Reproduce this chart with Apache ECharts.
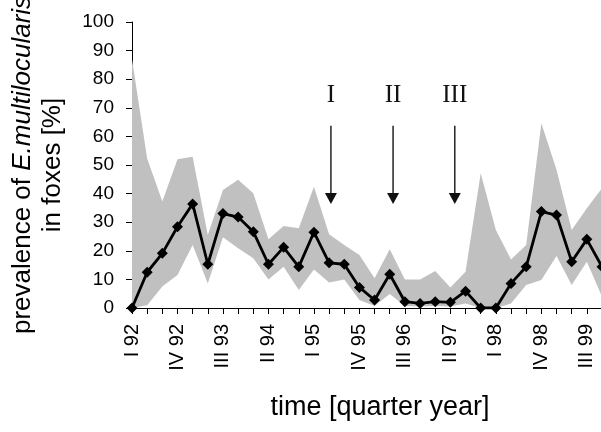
<!DOCTYPE html>
<html>
<head>
<meta charset="utf-8">
<script src="https://cdn.jsdelivr.net/npm/echarts@6/dist/echarts.min.js"></script>
<style>
html,body{margin:0;padding:0;background:#fff;}
#chart{width:601px;height:432px;}
</style>
</head>
<body>
<div id="chart"></div>
<script>
// ---- data ----
const quarterLabels = [
  'I 92','II 92','III 92','IV 92',
  'I 93','II 93','III 93','IV 93',
  'I 94','II 94','III 94','IV 94',
  'I 95','II 95','III 95','IV 95',
  'I 96','II 96','III 96','IV 96',
  'I 97','II 97','III 97','IV 97',
  'I 98','II 98','III 98','IV 98',
  'I 99','II 99','III 99','IV 99'
];
const prevalence = [0,12.5,19.1,28.4,36.4,15.3,33,31.8,26.7,15.3,21.2,14.4,26.5,15.8,15.3,7.2,2.8,11.8,2.2,1.6,2.2,2,5.9,0,0,8.6,14.4,33.7,32.5,16.2,24,14.4];
const upperCI = [87,52.3,37.2,52,52.9,25.5,41.3,44.8,40.1,24,28.7,27.9,42.4,25.8,22,18.5,10.4,20.5,10,10,12.9,7.2,12.7,47.1,27.3,17,22,64.6,48.3,27.3,34.9,41.9];
const lowerCI = [0,1,7.5,11.5,22,8.6,24.7,20.9,17.4,10,14.4,6.3,13.5,8.9,10,2.8,0.7,4.9,0.7,0.5,0.7,0.5,1.6,0,0,1.6,8,9.8,18.2,8,16.2,4];
const yTicks = [0,10,20,30,40,50,60,70,80,90,100];
// control measures (arrows): position in quarter index, label
const arrowLabels = ['I','II','III'];
const arrowPositions = [13.12, 17.22, 21.29];
const arrowTopValue = 63.7;
const arrowTipValue = 36.4;

const bandWidth = upperCI.map((u, i) => +(u - lowerCI[i]).toFixed(2));

const FONT = 'Liberation Sans, Arial, sans-serif';
const chart = echarts.init(document.getElementById('chart'), null, {renderer: 'canvas'});

const option = {
  animation: false,
  backgroundColor: '#ffffff',
  grid: {left: 132, top: 22, width: 470, height: 286, outerBoundsMode: 'none', containLabel: false},
  xAxis: [{
    type: 'category',
    data: quarterLabels,
    boundaryGap: false,
    name: 'time [quarter year]',
    nameLocation: 'middle',
    nameGap: 86,
    nameMoveOverlap: false,
    nameTextStyle: {fontFamily: FONT, fontSize: 27, color: '#000', padding: [0, 0, 0, 26]},
    axisLine: {show: true, lineStyle: {color: '#000', width: 1}},
    axisTick: {show: true, interval: 0, length: 6, lineStyle: {color: '#000', width: 1}},
    axisLabel: {
      interval: 2, rotate: 90, margin: 16,
      fontFamily: FONT, fontSize: 20, color: '#000'
    },
    splitLine: {show: false}
  }, {
    type: 'value',
    min: 0, max: quarterLabels.length - 1,
    show: false,
    gridIndex: 0
  }],
  yAxis: {
    type: 'value',
    min: 0, max: 100, interval: 10,
    name: '{a|prevalence of }{b|E.multilocularis}\n{a|in foxes [%]}',
    nameLocation: 'middle',
    nameGap: 64,
    nameRotate: 90,
    nameMoveOverlap: false,
    nameTextStyle: {
      lineHeight: 30,
      rich: {
        a: {fontFamily: FONT, fontSize: 26, color: '#000', lineHeight: 30},
        b: {fontFamily: FONT, fontSize: 26, color: '#000', fontStyle: 'italic', lineHeight: 30}
      }
    },
    axisLine: {show: true, lineStyle: {color: '#000', width: 1}},
    axisTick: {show: true, length: 6, lineStyle: {color: '#000', width: 1}},
    axisLabel: {
      margin: 18, fontFamily: FONT, fontSize: 19, color: '#000',
      formatter: v => (yTicks.indexOf(v) >= 0 ? String(v) : '')
    },
    splitLine: {show: false}
  },
  series: [
    {
      name: 'lower',
      type: 'line',
      data: lowerCI,
      stack: 'ci',
      symbol: 'none',
      lineStyle: {opacity: 0},
      silent: true,
      z: 1
    },
    {
      name: 'band',
      type: 'line',
      data: bandWidth,
      stack: 'ci',
      symbol: 'none',
      lineStyle: {opacity: 0},
      areaStyle: {color: '#c0c0c0', opacity: 1},
      silent: true,
      z: 1
    },
    {
      name: 'prevalence',
      type: 'line',
      data: prevalence,
      symbol: 'diamond',
      symbolSize: 11,
      showAllSymbol: true,
      lineStyle: {color: '#000', width: 2.8},
      itemStyle: {color: '#000'},
      z: 5
    },
    {
      name: 'measures',
      type: 'custom',
      xAxisIndex: 1,
      yAxisIndex: 0,
      data: arrowPositions.map((p, i) => [p, i]),
      renderItem: function (params, api) {
        const x = api.value(0);
        const idx = api.value(1);
        const top = api.coord([x, arrowTopValue]);
        const tip = api.coord([x, arrowTipValue]);
        const headLen = 11, headHalf = 6;
        return {
          type: 'group',
          children: [
            {type: 'line', shape: {x1: top[0], y1: top[1], x2: tip[0], y2: tip[1] - headLen + 1},
             style: {stroke: '#222', lineWidth: 1.5}},
            {type: 'polygon', shape: {points: [[tip[0] - headHalf, tip[1] - headLen], [tip[0] + headHalf, tip[1] - headLen], [tip[0], tip[1]]]},
             style: {fill: '#111'}},
            {type: 'text', x: top[0], y: top[1] - 30,
             style: {text: arrowLabels[idx], fontFamily: 'Liberation Serif, Times New Roman, serif', fontSize: 25,
                     fill: '#111', align: 'center', verticalAlign: 'middle'}}
          ]
        };
      },
      z: 6
    }
  ]
};
chart.setOption(option);
</script>
</body>
</html>
